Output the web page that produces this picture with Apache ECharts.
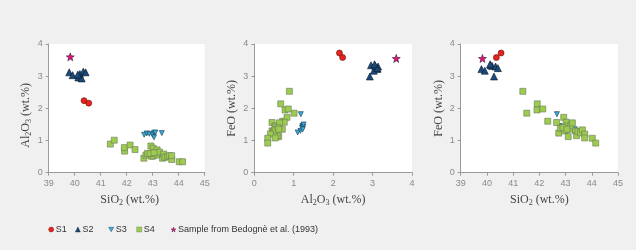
<!DOCTYPE html>
<html>
<head>
<meta charset="utf-8">
<script src="https://cdn.jsdelivr.net/npm/echarts@6/dist/echarts.min.js"></script>
<style>
html,body{margin:0;padding:0;background:#f0f0f0;}
#c{width:636px;height:250px;}
</style>
</head>
<body>
<div id="c"></div>
<script>
// ---- data ----
const s1SiO2  = [40.36, 40.54];
const s1Al2O3 = [2.24, 2.16];
const s1FeO   = [3.58, 3.72];

const s2SiO2  = [39.79, 39.92, 40.14, 40.20, 40.27, 40.33, 40.42, 40.12];
const s2Al2O3 = [3.12, 3.03, 2.96, 3.07, 2.93, 3.14, 3.12, 3.05];
const s2FeO   = [3.22, 3.17, 3.34, 3.32, 2.99, 3.30, 3.25, 3.37];

const s3SiO2  = [42.67, 42.77, 42.87, 43.00, 43.06, 43.10, 43.05, 43.35];
const s3Al2O3 = [1.18, 1.22, 1.21, 1.17, 1.24, 1.25, 1.10, 1.23];
const s3FeO   = [1.82, 1.45, 1.40, 1.30, 1.42, 1.50, 1.25, 1.35];

const s4SiO2  = [41.37, 41.52, 41.92, 41.91, 42.13, 42.32, 42.93, 42.66, 43.02, 42.74,
                 42.80, 42.96, 43.02, 43.10, 43.17, 43.20, 43.26, 43.38, 43.42, 43.47,
                 43.57, 43.64, 43.73, 43.73, 44.02, 44.15, 42.90, 43.05];
const s4Al2O3 = [0.89, 1.01, 0.67, 0.78, 0.86, 0.72, 0.83, 0.45, 0.76, 0.55,
                 0.60, 0.51, 0.52, 0.62, 0.71, 0.55, 0.64, 0.45, 0.58, 0.48,
                 0.50, 0.53, 0.41, 0.53, 0.34, 0.34, 0.60, 0.62];
const s4FeO   = [2.53, 1.85, 2.14, 1.95, 1.98, 1.60, 1.72, 1.56, 1.57, 1.23,
                 1.38, 1.30, 1.45, 1.12, 1.35, 1.45, 1.55, 1.30, 1.15, 1.28,
                 1.24, 1.33, 1.20, 1.08, 1.07, 0.92, 1.40, 1.35];

const refSiO2  = [39.83];
const refAl2O3 = [3.60];
const refFeO   = [3.55];

const seriesNames = ['S1', 'S2', 'S3', 'S4', 'Sample from Bedognè et al. (1993)'];
const siTicks = [39, 45];   // min, max
const alTicks = [0, 4];
const feTicks = [0, 4];

// ---- styles ----
const STAR = 'path://M10,0 L12.35,6.76 L19.51,6.91 L13.80,11.24 L15.88,18.09 L10,14 L4.12,18.09 L6.20,11.24 L0.49,6.91 L7.65,6.76 Z';
const DOWN = 'path://M0,0 L10,0 L5,9 Z';
const styles = [
  {symbol: 'circle',   size: 6, color: '#e8231e', border: '#5a1010'},
  {symbol: 'triangle', size: 7, color: '#1c4a78', border: '#0a1a2a'},
  {symbol: DOWN,       size: 5, color: '#38aee0', border: '#123040'},
  {symbol: 'rect',     size: 6, color: '#9dcb4f', border: '#6a7a5a'},
  {symbol: STAR,       size: 8, color: '#e0167f', border: '#40102a'}
];

const zip = (a, b) => a.map((v, i) => [v, b[i]]);
const sets = {
  si: [s1SiO2, s2SiO2, s3SiO2, s4SiO2, refSiO2],
  al: [s1Al2O3, s2Al2O3, s3Al2O3, s4Al2O3, refAl2O3],
  fe: [s1FeO, s2FeO, s3FeO, s4FeO, refFeO]
};
const panels = [
  {x: 'si', y: 'al', xr: siTicks, yr: alTicks, xn: '{a|SiO}{s|2}{a| (wt.%)}', yn: '{a|Al}{s|2}{a|O}{s|3}{a| (wt.%)}', ypad: [0, 14, 0, 0], xpad: [0, 0, 0, 6]},
  {x: 'al', y: 'fe', xr: alTicks, yr: feTicks, xn: '{a|Al}{s|2}{a|O}{s|3}{a| (wt.%)}', yn: '{a|FeO (wt.%)}', ypad: [0,0,0,0], xpad: [0,0,0,0]},
  {x: 'si', y: 'fe', xr: siTicks, yr: feTicks, xn: '{a|SiO}{s|2}{a| (wt.%)}', yn: '{a|FeO (wt.%)}', ypad: [0,0,0,0], xpad: [0,0,0,0]}
];
const gridPos = [
  {left: 48.7, top: 44, width: 156, height: 128.7},
  {left: 254.3, top: 44, width: 157.7, height: 128.7},
  {left: 460.7, top: 44, width: 157.3, height: 128.7}
];

const richName = {
  a: {fontFamily: 'Liberation Serif', fontSize: 12, color: '#444'},
  s: {fontFamily: 'Liberation Serif', fontSize: 8, color: '#444', verticalAlign: 'bottom', padding: [5, 0, 0, 0]}
};

const axisCommon = {
  axisLine: {show: true, onZero: false, lineStyle: {color: '#9a9a9a', width: 1}},
  axisTick: {show: true, length: 3, lineStyle: {color: '#9a9a9a'}},
  axisLabel: {color: '#8a8a8a', fontSize: 9, fontFamily: 'Liberation Sans', margin: 6},
  splitLine: {show: false},
  nameLocation: 'middle'
};

const xAxis = [], yAxis = [], series = [];
panels.forEach((p, i) => {
  xAxis.push(Object.assign({}, axisCommon, {
    type: 'value', gridIndex: i, min: p.xr[0], max: p.xr[1], interval: 1,
    name: p.xn, nameGap: 21, nameTextStyle: {rich: richName, padding: p.xpad}
  }));
  yAxis.push(Object.assign({}, axisCommon, {
    type: 'value', gridIndex: i, min: p.yr[0], max: p.yr[1], interval: 1,
    name: p.yn, nameGap: 16, nameTextStyle: {rich: richName, padding: p.ypad}
  }));
  seriesNames.forEach((nm, k) => {
    series.push({
      type: 'scatter', name: nm, xAxisIndex: i, yAxisIndex: i,
      symbol: styles[k].symbol, symbolSize: styles[k].size,
      itemStyle: {color: styles[k].color, borderColor: styles[k].border, borderWidth: 0.6, opacity: 1},
      emphasis: {disabled: true},
      data: zip(sets[p.x][k], sets[p.y][k])
    });
  });
});

const legendCenters = [51, 77.7, 111, 139, 173.3];
const legend = seriesNames.map((nm, k) => ({
  data: [{name: nm, icon: styles[k].symbol}],
  left: legendCenters[k] - 2.5, top: 225, padding: 0,
  itemWidth: 5, itemHeight: 5,
  itemStyle: {borderWidth: 0.4},
  textStyle: {fontSize: 9, color: '#333', fontFamily: 'Liberation Sans', padding: [0, 0, 0, -3]}
}));

const chart = echarts.init(document.getElementById('c'), null, {renderer: 'canvas'});
chart.setOption({
  backgroundColor: '#f0f0f0',
  animation: false,
  grid: gridPos.map(g => Object.assign({show: true, backgroundColor: '#ffffff', borderWidth: 0}, g)),
  xAxis, yAxis, series, legend
});
</script>
</body>
</html>
